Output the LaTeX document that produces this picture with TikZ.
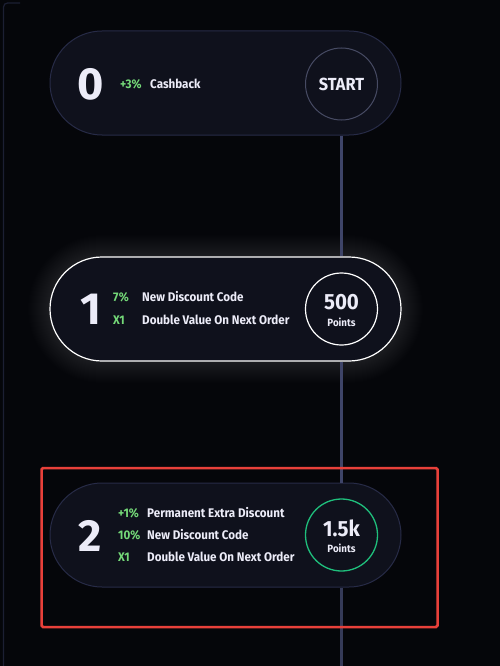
\documentclass[tikz,border=0pt]{standalone}
\usepackage{fontspec}
\setmainfont{Fira Sans}[FakeStretch=0.93,UprightFont=* Medium,BoldFont=* Bold]
\newfontfamily\bigdigit{Fira Sans}[FakeStretch=1.0,UprightFont=* Bold]
\usetikzlibrary{calc}
\definecolor{bgc}{HTML}{05060A}
\definecolor{pillfill}{HTML}{0F111C}
\definecolor{pillline}{HTML}{272B47}
\definecolor{conn}{HTML}{3E4468}
\definecolor{txtw}{HTML}{ECECF8}
\definecolor{grn}{HTML}{74D878}
\definecolor{ring}{HTML}{1FBF7C}
\definecolor{redbox}{HTML}{E8403A}
\definecolor{frame}{HTML}{1C1F33}
\tikzset{
  pill/.style={draw=pillline, line width=1pt, fill=pillfill, rounded corners=52pt,
    minimum width=351pt, minimum height=104pt, inner sep=0pt},
  ringc/.style={circle, draw=pillline, line width=1pt, minimum size=72pt, inner sep=0pt},
  digit/.style={text=txtw, font=\bigdigit\fontsize{45}{45}\selectfont, anchor=center},
  val/.style={text=grn, font=\bfseries\fontsize{12.5}{14}\selectfont, anchor=west, inner sep=0pt},
  lbl/.style={text=txtw, font=\bfseries\fontsize{12.5}{14}\selectfont, anchor=west, inner sep=0pt},
  big/.style={text=txtw, font=\bfseries\fontsize{22}{22}\selectfont, inner sep=0pt},
  small/.style={text=txtw, font=\bfseries\fontsize{10.5}{11}\selectfont, inner sep=0pt},
  connector/.style={draw=conn, line width=2.3pt}
}
\begin{document}
\begin{tikzpicture}[x=1pt,y=-1pt]
\fill[bgc] (0,0) rectangle (500,666);
\useasboundingbox (0,0) rectangle (500,666);
% left frame edge
\draw[frame, line width=1.2pt, rounded corners=4pt] (3.5,666) -- (3.5,3) -- (20,3);
% glow behind pill 1
\foreach \i in {1,...,22}{
  \fill[white, opacity=0.0085, rounded corners={(52+\i)*1pt}] (50-\i,257-\i) rectangle (401+\i,361+\i);
}
% pills
\node[pill] (p0) at (225.5,83) {};
\node[pill, draw=white, line width=1.2pt] (p1) at (225.5,309) {};
\node[pill] (p2) at (225.5,535) {};
% circles
\node[ringc, draw=pillline!85!white] (s0) at (341.5,84) {};
\node[big, font=\bfseries\fontsize{17.5}{18}\selectfont] (s0t) at (341.5,84) {START};
\node[ringc, draw=white, line width=1.2pt] (s1) at (341.5,309) {};
\node[big] (s1a) at (341.5,302) {500};
\node[small] (s1b) at (341.5,322) {Points};
\node[ringc, draw=ring, line width=1.3pt] (s2) at (341.5,535) {};
\node[big] (s2a) at (341.5,528) {1.5k};
\node[small] (s2b) at (341.5,548) {Points};
% connectors
\coordinate (endc) at (341.5,666);
\draw[connector] (s0 |- p0.south) -- (s1 |- p1.north);
\draw[connector] (s1 |- p1.south) -- (s2 |- p2.north);
\draw[connector, draw=conn!85!black] (s2 |- p2.south) -- (endc);
% digits
\node[digit] (d0) at (90.5,84) {0};
\node[digit] (d1) at (90.5,309) {1};
\node[digit] (d2) at (90.5,536) {2};
% texts level 0
\node[val] (v0a) at (120,84) {+3\%};
\node[lbl] (l0a) at (150,84) {Cashback};
% level 1
\node[val] (v1a) at (113,297) {7\%};
\node[lbl] (l1a) at (142,297) {New Discount Code};
\node[val] (v1b) at (113,320) {X1};
\node[lbl] (l1b) at (142,320) {Double Value On Next Order};
% level 2
\node[val] (v2a) at (118,513) {+1\%};
\node[lbl] (l2a) at (147,513) {Permanent Extra Discount};
\node[val] (v2b) at (118,535) {10\%};
\node[lbl] (l2b) at (147,535) {New Discount Code};
\node[val] (v2c) at (118,557) {X1};
\node[lbl] (l2c) at (147,557) {Double Value On Next Order};
% highlight box
\draw[redbox, line width=2.5pt, rounded corners=1.5pt] (41.5,468) rectangle (437.5,627);
\end{tikzpicture}
\end{document}
